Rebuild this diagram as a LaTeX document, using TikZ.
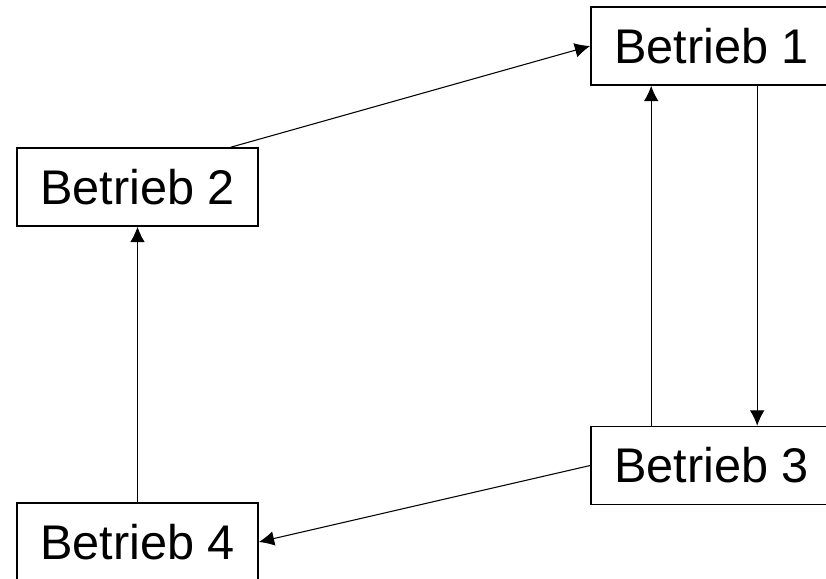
\documentclass[tikz,border=0pt]{standalone}
\usepackage{fontspec}
\setmainfont{Liberation Sans}
\usetikzlibrary{arrows.meta,calc}
\begin{document}
\begin{tikzpicture}[
  x=0.75pt, y=-0.75pt,
  betrieb/.style={draw, line width=1.2pt, minimum width=180.75pt, minimum height=58.5pt,
    inner sep=0pt, font=\fontsize{36.5}{40}\selectfont},
  pfeil/.style={line width=0.8pt, -{Latex[length=11.5pt,width=11pt]}}
]
\useasboundingbox (0,0) rectangle (826,579);
\clip (0,0) rectangle (826,579);
\node[betrieb] (b1) at (711.5,46) {Betrieb 1};
\node[betrieb] (b2) at (137.5,187) {Betrieb 2};
\node[betrieb] (b3) at (711.5,465.5) {Betrieb 3};
\node[betrieb] (b4) at (137.5,542) {Betrieb 4};

\draw[pfeil] ($(b2.north east)+(-28,0)$) -- (b1.west);
\draw[pfeil] ($(b3.north west)+(61,0)$) -- ($(b1.south west)+(61,0)$);
\draw[pfeil] ($(b1.south west)+(167,0)$) -- ($(b3.north west)+(167,0)$);
\draw[pfeil] (b3.west) -- (b4.east);
\draw[pfeil] (b4.north) -- (b2.south);
%\draw (b2) -- (b3);
\end{tikzpicture}
\end{document}
